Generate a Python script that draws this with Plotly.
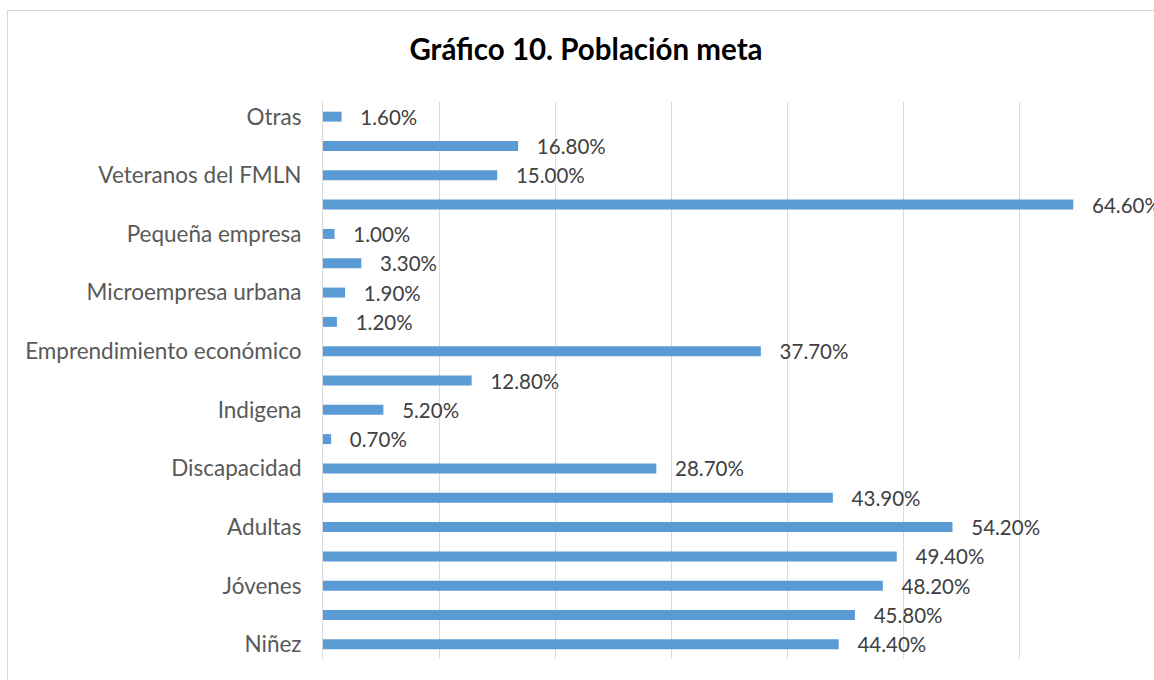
import plotly.graph_objects as go

# Categories from bottom to top
categories = [
    "Niñez", "Adolescencia", "Jóvenes", "Mujeres", "Adultas",
    "Personas adultas mayores", "Discapacidad", "LGBTI", "Indigena",
    "Población rural", "Emprendimiento económico", "Microempresa rural",
    "Microempresa urbana", "Mediana empresa", "Pequeña empresa",
    "Población en general", "Veteranos del FMLN", "Excombatientes", "Otras",
]
values = [44.4, 45.8, 48.2, 49.4, 54.2, 43.9, 28.7, 0.7, 5.2, 12.8,
          37.7, 1.2, 1.9, 3.3, 1.0, 64.6, 15.0, 16.8, 1.6]
shown_labels = ["Niñez", "Jóvenes", "Adultas", "Discapacidad", "Indigena",
                "Emprendimiento económico", "Microempresa urbana",
                "Pequeña empresa", "Veteranos del FMLN", "Otras"]
x_ticks = [0, 10, 20, 30, 40, 50, 60, 70]

FONT = "Lato"

fig = go.Figure(go.Bar(
    y=categories, x=values, orientation="h",
    marker=dict(color="#5B9BD5", line=dict(width=0)),
    text=["\u00a0\u00a0\u00a0%.2f%%" % v for v in values],
    textposition="outside",
    textfont=dict(family=FONT, size=20.5, color="#404040"),
    constraintext="none",
    cliponaxis=False,
    hoverinfo="skip",
))

W, H = 1154, 680
L, R, T, B = 323, 1136, 102, 659
pw, ph = R - L, B - T

def px(x):
    return (x - L) / pw

def py(y):
    return (B - y) / ph

fig.update_layout(
    width=W, height=H,
    margin=dict(l=L, r=W - R, t=T, b=H - B, pad=0),
    paper_bgcolor="white", plot_bgcolor="white",
    showlegend=False,
    bargap=0.66,
    title=dict(
        text="<b>Gráfico 10. Población meta</b>",
        font=dict(family=FONT, size=29.5, color="#000000"),
        x=586 / W, xref="container", xanchor="center",
        y=1 - 50 / H, yref="container", yanchor="middle",
    ),
    xaxis=dict(
        range=[0, 70], tickvals=x_ticks, showticklabels=False,
        showgrid=True, gridcolor="#D9D9D9", gridwidth=1,
        zeroline=False, showline=False, fixedrange=True,
    ),
    yaxis=dict(
        categoryorder="array", categoryarray=categories,
        tickvals=shown_labels, ticktext=shown_labels,
        tickfont=dict(family=FONT, size=22.5, color="#595959"),
        ticks="", ticklabelstandoff=16,
        showline=True, linecolor="#D9D9D9", linewidth=1,
        showgrid=False, zeroline=False, fixedrange=True,
    ),
    shapes=[dict(
        type="rect", xref="paper", yref="paper",
        x0=px(7.5), x1=px(1160), y0=py(10.5), y1=py(690),
        line=dict(color="#D9D9D9", width=1), fillcolor="rgba(0,0,0,0)",
        layer="below",
    )],
)

fig.write_html("out.html", config={"displayModeBar": False},
               post_script="document.body.style.margin='0px';")
